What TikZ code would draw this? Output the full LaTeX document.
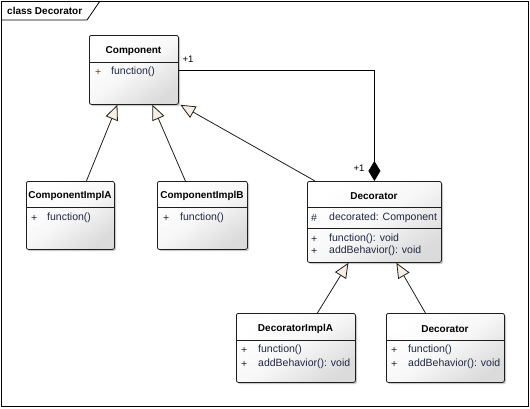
\documentclass[tikz,border=0pt]{standalone}
\usepackage{fontspec}
\setmainfont{Liberation Sans}
\usetikzlibrary{arrows.meta,shadows}
\definecolor{itemcol}{RGB}{32,38,66}
\definecolor{pluscol}{RGB}{32,38,66}
\definecolor{brplus}{RGB}{125,70,35}
\definecolor{tipfill}{RGB}{247,240,226}
\definecolor{linecol}{RGB}{30,30,30}
\tikzset{
  classbox/.style={draw=linecol, line width=0.8pt, rounded corners=2pt, anchor=north west,
    inner sep=0pt, top color=white, bottom color=black!14, middle color=white!97!black,
    shading angle=35,
    drop shadow={shadow xshift=1.6pt, shadow yshift=-1.6pt, opacity=0.35, fill=black!60}},
  title/.style={font=\fontsize{10}{12}\selectfont\bfseries, text=black, inner sep=0pt},
  item/.style={font=\fontsize{10.5}{12}\selectfont, text=itemcol, inner sep=0pt, anchor=west},
  vis/.style={font=\fontsize{10.5}{12}\selectfont, text=pluscol, inner sep=0pt, anchor=west},
  sep/.style={draw=linecol, line width=0.8pt},
  gen/.style={draw=linecol, line width=0.8pt, -{Triangle[open, fill=tipfill, length=15pt, width=13pt]}},
  compo/.style={draw=black, line width=0.8pt, -{Diamond[length=20pt, width=12pt, fill=black]}},
  mult/.style={font=\fontsize{9.5}{11}\selectfont, text=black, inner sep=0pt},
}
\begin{document}
\begin{tikzpicture}[x=1pt, y=-1pt]
\useasboundingbox (0,0) rectangle (530,408);
% frame
\draw[line width=0.8pt] (1,1) rectangle (528,406);
\draw[line width=0.8pt] (1,20) -- (87,20) -- (100,1);
\node[title, anchor=west] (frametitle) at (7,11) {class Decorator};

% Component
\node[classbox, minimum width=89pt, minimum height=69pt] (comp) at (89,35) {};
\draw[sep] (89,62) -- (178,62);
\node[title] (compT) at (133.5,51) {Component};
\node[vis, text=brplus] (compV) at (95,72) {+};
\node[item] (compI) at (111,72) {function()};

% ComponentImplA
\node[classbox, minimum width=88pt, minimum height=68pt] (implA) at (26,181) {};
\draw[sep] (26,207) -- (114,207);
\node[title] (implAT) at (70,196) {ComponentImplA};
\node[vis] (implAV) at (31,218) {+};
\node[item] (implAI) at (47,218) {function()};

% ComponentImplB
\node[classbox, minimum width=90pt, minimum height=68pt] (implB) at (157,181) {};
\draw[sep] (157,207) -- (247,207);
\node[title] (implBT) at (202,196) {ComponentImplB};
\node[vis] (implBV) at (163,218) {+};
\node[item] (implBI) at (180,218) {function()};

% Decorator
\node[classbox, minimum width=134pt, minimum height=81pt] (deco) at (307,181) {};
\draw[sep] (307,207) -- (441,207);
\draw[sep] (307,228) -- (441,228);
\node[title] (decoT) at (374,196) {Decorator};
\node[vis] (decoV1) at (311,218) {\#};
\node[item] (decoI1) at (329,218) {decorated: Component};
\node[vis] (decoV2) at (311,239) {+};
\node[item] (decoI2) at (329,239) {function(): void};
\node[vis] (decoV3) at (311,251) {+};
\node[item] (decoI3) at (329,251) {addBehavior(): void};

% DecoratorImplA
\node[classbox, minimum width=119pt, minimum height=69pt] (decA) at (236,313) {};
\draw[sep] (236,340) -- (355,340);
\node[title] (decAT) at (295.5,329) {DecoratorImplA};
\node[vis] (decAV1) at (241,350) {+};
\node[item] (decAI1) at (258,350) {function()};
\node[vis] (decAV2) at (241,364) {+};
\node[item] (decAI2) at (258,364) {addBehavior(): void};

% Decorator (second)
\node[classbox, minimum width=118pt, minimum height=69pt] (decB) at (386,313) {};
\draw[sep] (386,340) -- (504,340);
\node[title] (decBT) at (445,329) {Decorator};
\node[vis] (decBV1) at (391,350) {+};
\node[item] (decBI1) at (408,350) {function()};
\node[vis] (decBV2) at (391,364) {+};
\node[item] (decBI2) at (408,364) {addBehavior(): void};

% connectors
\draw[gen] ([xshift=16pt]implA.north) -- ([xshift=-16.5pt]comp.south);
\draw[gen] ([xshift=-17pt]implB.north) -- ([xshift=18.5pt]comp.south);
\draw[gen] ([xshift=8pt]deco.north west) -- ([xshift=1.5pt]comp.south east);
\draw[gen] ([xshift=21.5pt]decA.north) -- ([xshift=-26pt]deco.south);
\draw[gen] ([xshift=-20pt]decB.north) -- ([xshift=22pt]deco.south);
\draw[compo] (comp.east) -| (deco.north);
\node[mult] (m1) at (188,59) {+1};
\node[mult] (m2) at (359,168) {+1};
\end{tikzpicture}
\end{document}
